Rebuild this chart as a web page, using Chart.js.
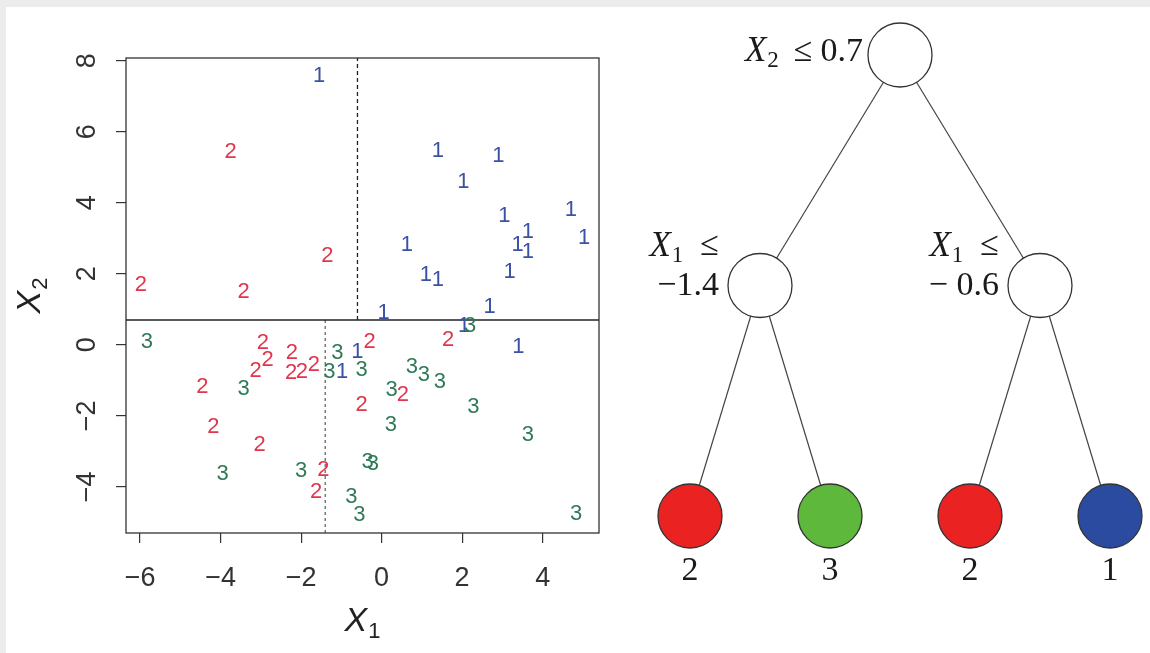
<!DOCTYPE html>
<html>
<head>
<meta charset="utf-8">
<title>Classification tree</title>
<script src="https://cdn.jsdelivr.net/npm/chart.js@4.4.1/dist/chart.umd.min.js"></script>
<style>
  html, body { margin: 0; padding: 0; background: #ececec; overflow: hidden; }
  #sheet { position: absolute; left: 6px; top: 7px; width: 1144px; height: 646px; background: #fff; }
  #scatterWrap { position: absolute; left: 0; top: 0; width: 620px; height: 653px; }
  #treeWrap { position: absolute; left: 620px; top: 0; width: 530px; height: 653px; }
</style>
</head>
<body>
<div id="sheet"></div>
<div id="scatterWrap"><canvas id="scatter"></canvas></div>
<div id="treeWrap"><canvas id="tree"></canvas></div>
<script>
// --- scatter data (X1, X2) per class ---
const class1X = [-1.55, 1.4, 2.9, 2.03, 3.05, 4.7, 5.03, 0.63, 3.38, 3.63, 3.63, 1.1, 1.4, 3.18, 2.68, 0.05, 3.4, -0.6, -0.98, 2.05];
const class1Y = [7.57, 5.45, 5.31, 4.6, 3.64, 3.81, 3.02, 2.82, 2.82, 3.19, 2.63, 1.98, 1.84, 2.06, 1.07, 0.9, -0.06, -0.2, -0.76, 0.52];
const class2X = [-3.75, -1.35, -5.98, -3.43, -2.95, -2.83, -3.13, -2.23, -2.25, -1.98, -1.68, -4.45, -4.18, -3.03, -1.45, -1.63, -0.3, -0.5, 0.53, 1.65];
const class2Y = [5.42, 2.51, 1.69, 1.5, 0.06, -0.42, -0.73, -0.23, -0.79, -0.76, -0.56, -1.19, -2.32, -2.82, -3.53, -4.15, 0.08, -1.69, -1.41, 0.14];
const class3X = [-5.83, -3.43, -3.95, -2.0, -1.1, -1.3, -0.5, -0.75, -0.55, -0.35, -0.22, 0.75, 1.05, 1.45, 0.25, 0.23, 2.28, 3.63, 4.83, 2.2];
const class3Y = [0.08, -1.24, -3.64, -3.56, -0.23, -0.76, -0.71, -4.29, -4.8, -3.3, -3.36, -0.62, -0.85, -1.05, -1.27, -2.26, -1.75, -2.54, -4.75, 0.52];

const xLimits = [-6.35, 5.4];
const yLimits = [-5.3, 8.08];
const xTicks = [-6, -4, -2, 0, 2, 4];
const yTicks = [-4, -2, 0, 2, 4, 6, 8];

// split points of the tree
const splitX2 = 0.7;
const splitX1Left = -1.4;
const splitX1Right = -0.6;

// --- tree layout: horizontal slot and depth of each node ---
const nodePos = [1.5, 0.5, 2.5, 0, 1, 2, 3];
const nodeDepth = [0, 1, 1, 2, 2, 2, 2];
const nodeFill = ['#ffffff', '#ffffff', '#ffffff', '#ea2222', '#5eb83c', '#ea2222', '#2b4ba0'];
const splitVar = ['2', '1', '1'];
const splitValue = ['0.7', '\u22121.4', '\u2212 0.6'];
const leafClass = ['2', '3', '2', '1'];
const edgeParent = [0, 0, 1, 1, 2, 2];
const edgeChild = [1, 2, 3, 4, 5, 6];

const SANS = '"Liberation Sans", Arial, Helvetica, sans-serif';
const SERIF = '"Liberation Serif", "Times New Roman", serif';

const minus = v => (v < 0 ? '\u2212' + Math.abs(v) : String(v));
const toPoints = (xs, ys) => xs.map((x, i) => ({ x: x, y: ys[i] }));

// draw "main" followed by a lowered subscript, centred (or right aligned) at x
function drawSub(ctx, main, sub, x, y, mainFont, subFont, drop, align) {
    ctx.font = mainFont;
    const wm = ctx.measureText(main).width;
    ctx.font = subFont;
    const ws = ctx.measureText(sub).width;
    const total = wm + ws + 1;
    const start = align === 'right' ? x - total : x - total / 2;
    ctx.textAlign = 'left';
    ctx.font = mainFont;
    ctx.fillText(main, start, y);
    ctx.font = subFont;
    ctx.fillText(sub, start + wm + 1, y + drop);
    return total;
}

const scatterDecor = {
    id: 'scatterDecor',
    afterDatasetsDraw(chart) {
        const { ctx, chartArea: a, scales } = chart;
        ctx.save();
        ctx.strokeStyle = '#333';
        ctx.lineWidth = 1.3;
        ctx.strokeRect(a.left, a.top, a.right - a.left, a.bottom - a.top);

        // class digits at each point
        ctx.font = '22px ' + SANS;
        ctx.textAlign = 'center';
        ctx.textBaseline = 'middle';
        chart.data.datasets.forEach((ds, i) => {
            if (!ds.digit) return;
            ctx.fillStyle = ds.digitColor;
            chart.getDatasetMeta(i).data.forEach(pt => ctx.fillText(ds.digit, pt.x, pt.y));
        });

        // y tick labels, rotated like R
        ctx.fillStyle = '#333';
        ctx.font = '27px ' + SANS;
        yTicks.forEach(v => {
            const py = scales.y.getPixelForValue(v);
            ctx.save();
            ctx.translate(a.left - 38, py);
            ctx.rotate(-Math.PI / 2);
            ctx.textAlign = 'center';
            ctx.fillText(minus(v), 0, 0);
            ctx.restore();
        });

        // axis titles
        ctx.fillStyle = '#222';
        drawSub(ctx, 'X', '1', (a.left + a.right) / 2, 622, 'italic 34px ' + SANS, '22px ' + SANS, 10, 'center');
        ctx.save();
        ctx.translate(31, (a.top + a.bottom) / 2);
        ctx.rotate(-Math.PI / 2);
        drawSub(ctx, 'X', '2', 0, 0, 'italic 34px ' + SANS, '22px ' + SANS, 10, 'center');
        ctx.restore();
        ctx.restore();
    }
};

const splitLine = (data, color, dash, width) => ({
    data: data, showLine: true, borderColor: color, borderWidth: width,
    borderDash: dash, pointRadius: 0, fill: false
});

new Chart(document.getElementById('scatter'), {
    type: 'scatter',
    data: {
        datasets: [
            { label: '1', data: toPoints(class1X, class1Y), pointRadius: 0, digit: '1', digitColor: '#3a52a4' },
            { label: '2', data: toPoints(class2X, class2Y), pointRadius: 0, digit: '2', digitColor: '#e0354c' },
            { label: '3', data: toPoints(class3X, class3Y), pointRadius: 0, digit: '3', digitColor: '#2e7a57' },
            splitLine([{ x: xLimits[0], y: splitX2 }, { x: xLimits[1], y: splitX2 }], '#222', [], 1.5),
            splitLine([{ x: splitX1Right, y: splitX2 }, { x: splitX1Right, y: yLimits[1] }], '#222', [4, 3], 1.3),
            splitLine([{ x: splitX1Left, y: yLimits[0] }, { x: splitX1Left, y: splitX2 }], '#6f7f70', [3, 3], 1.5)
        ]
    },
    options: {
        responsive: true,
        maintainAspectRatio: false,
        animation: false,
        events: [],
        layout: { autoPadding: false, padding: { top: 58, right: 21, left: 0, bottom: 0 } },
        plugins: { legend: { display: false }, tooltip: { enabled: false } },
        scales: {
            x: {
                type: 'linear', min: xLimits[0], max: xLimits[1],
                afterBuildTicks: s => { s.ticks = xTicks.map(v => ({ value: v })); },
                afterFit: s => { s.height = 120; },
                grid: { drawOnChartArea: false, drawTicks: true, tickLength: 10, color: '#333', lineWidth: 1.2 },
                border: { display: false },
                ticks: { color: '#333', font: { family: SANS, size: 27 }, padding: 19, maxRotation: 0, autoSkip: false, callback: v => minus(v) }
            },
            y: {
                type: 'linear', min: yLimits[0], max: yLimits[1],
                afterBuildTicks: s => { s.ticks = yTicks.map(v => ({ value: v })); },
                afterFit: s => { s.width = 126; },
                grid: { drawOnChartArea: false, drawTicks: true, tickLength: 10, color: '#333', lineWidth: 1.2 },
                border: { display: false },
                ticks: { display: false }
            }
        }
    },
    plugins: [scatterDecor]
});

// --- tree ---
const treeDecor = {
    id: 'treeDecor',
    afterDatasetsDraw(chart) {
        const { ctx } = chart;
        const nodes = chart.getDatasetMeta(0).data;
        const r = 32;
        const big = '34px ' + SERIF;
        const bigItalic = 'italic 35px ' + SERIF;
        const small = '23px ' + SERIF;
        ctx.save();
        ctx.fillStyle = '#1a1a1a';
        ctx.textBaseline = 'middle';

        // "X_v <=" piece ending at x
        const condition = (v, x, y, gap) => {
            ctx.font = big;
            const wLe = ctx.measureText('\u2264').width;
            ctx.textAlign = 'left';
            ctx.fillText('\u2264', x - wLe, y);
            drawSub(ctx, 'X', v, x - wLe - gap, y, bigItalic, small, 9, 'right');
        };

        // root label on one line
        const root = nodes[0];
        const right = root.x - r - 5;
        ctx.font = big;
        ctx.textAlign = 'right';
        ctx.fillText(splitValue[0], right, root.y - 3);
        const wVal = ctx.measureText(splitValue[0]).width;
        condition(splitVar[0], right - wVal - 8, root.y - 3, 15);

        // internal nodes, two lines
        [1, 2].forEach(i => {
            const n = nodes[i];
            const rx = n.x - r - 9;
            condition(splitVar[i], rx, n.y - 39, 17);
            ctx.font = big;
            ctx.textAlign = 'right';
            ctx.fillText(splitValue[i], rx, n.y + 1);
        });

        // leaf classes
        ctx.font = big;
        ctx.textAlign = 'center';
        leafClass.forEach((c, k) => {
            const n = nodes[3 + k];
            ctx.fillText(c, n.x, n.y + 55);
        });
        ctx.restore();
    }
};

const treeDatasets = [{
    data: toPoints(nodePos, nodeDepth),
    pointRadius: 32,
    pointBackgroundColor: nodeFill,
    pointBorderColor: '#333',
    pointBorderWidth: 1.3,
    showLine: false
}];
edgeParent.forEach((p, k) => {
    const c = edgeChild[k];
    treeDatasets.push({
        data: [{ x: nodePos[p], y: nodeDepth[p] }, { x: nodePos[c], y: nodeDepth[c] }],
        showLine: true, borderColor: '#444', borderWidth: 1.2, pointRadius: 0
    });
});

new Chart(document.getElementById('tree'), {
    type: 'scatter',
    data: { datasets: treeDatasets },
    options: {
        responsive: true,
        maintainAspectRatio: false,
        animation: false,
        events: [],
        layout: { autoPadding: false, padding: 0 },
        plugins: { legend: { display: false }, tooltip: { enabled: false } },
        scales: {
            x: { type: 'linear', display: false, min: -0.5, max: 3.2857 },
            y: { type: 'linear', display: false, reverse: true, min: -0.2386, max: 2.5944 }
        }
    },
    plugins: [treeDecor]
});
</script>
</body>
</html>
